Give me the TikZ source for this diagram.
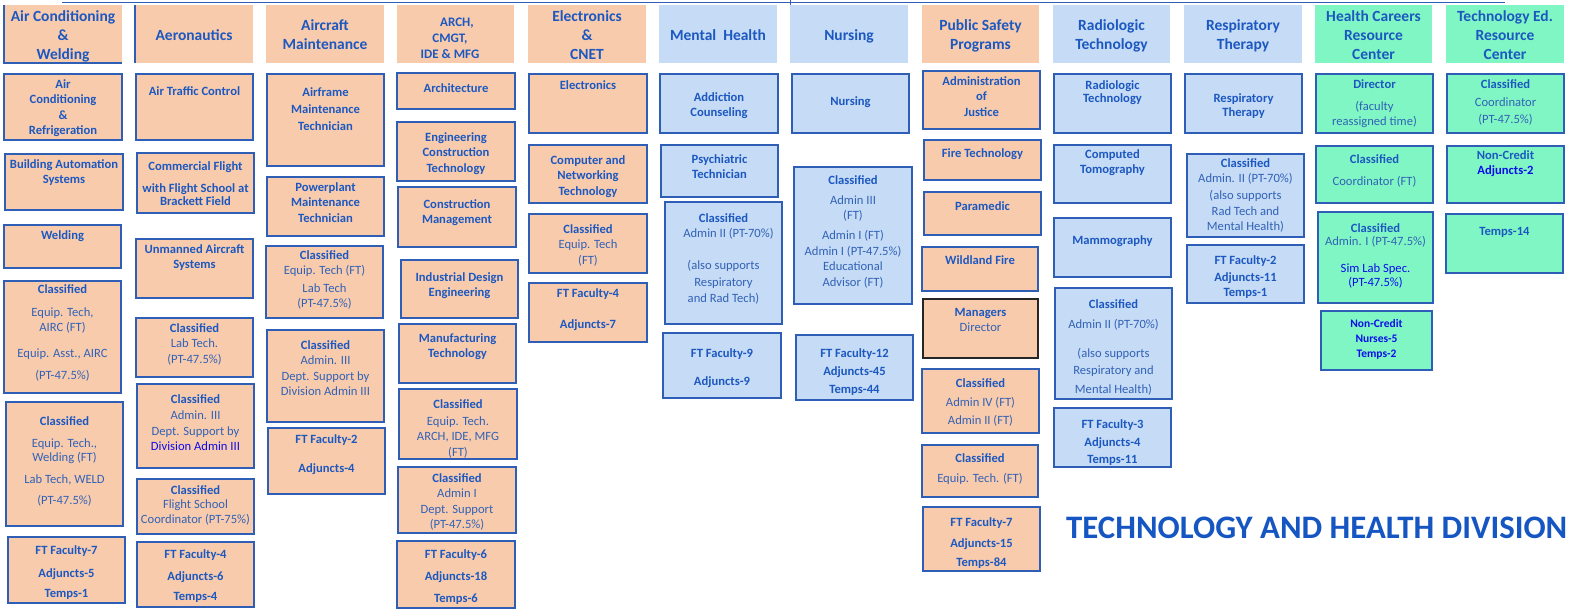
\documentclass[tikz,border=0pt]{standalone}
\usepackage{fontspec}
\setmainfont{Carlito}
\usetikzlibrary{calc}
\definecolor{peachc}{RGB}{248,203,173}
\definecolor{lbluec}{RGB}{197,219,246}
\definecolor{mintc}{RGB}{128,246,196}
\definecolor{bordercol}{RGB}{46,94,182}
\definecolor{boldtext}{RGB}{28,88,192}
\definecolor{normtext}{RGB}{50,98,182}
\definecolor{pureblue}{RGB}{12,12,235}
\definecolor{titlecol}{RGB}{22,86,194}
\newcommand\bb[1]{\textbf{\color{boldtext}#1}}
\newcommand\pb[1]{\textcolor{pureblue}{#1}}
\newcommand\bx[8]{%
  \pgfmathsetmacro\bxw{#5-#3}\pgfmathsetmacro\bxh{#6-#4}\pgfmathsetmacro\bxc{(#3+#5)/2}%
  \node[#2, minimum width=\bxw pt, minimum height=\bxh pt, anchor=north west] (#1) at (#3,#4) {};%
  \node[txt, anchor=north] (#1-t) at (\bxc,#7) {#8};%
}
\newcommand\hd[6]{%
  \pgfmathsetmacro\bxw{#4-#3}\pgfmathsetmacro\bxc{(#3+#4)/2}%
  \node[#2, minimum width=\bxw pt, minimum height=58pt, anchor=north west] (#1) at (#3,5) {};%
  \node[htxt, anchor=north] (#1-t) at (\bxc,#5) {#6};%
}
\tikzset{
  boxbase/.style={draw=bordercol, line width=1.2pt, inner sep=0pt, outer sep=0pt},
  peach/.style={boxbase, fill=peachc},
  lblue/.style={boxbase, fill=lbluec},
  mint/.style={boxbase, fill=mintc},
  peachk/.style={boxbase, fill=peachc, draw=black!85, line width=1.4pt},
  hpeach/.style={fill=peachc, inner sep=0pt, outer sep=0pt},
  hlblue/.style={fill=lbluec, inner sep=0pt, outer sep=0pt},
  hmint/.style={fill=mintc, inner sep=0pt, outer sep=0pt},
  txt/.style={align=center, inner sep=0pt, text=normtext, font=\fontsize{12.6}{15.5}\selectfont},
  htxt/.style={align=center, inner sep=0pt, text=boldtext, font=\fontsize{15.5}{19}\selectfont\bfseries},
  htxts/.style={htxt, font=\fontsize{13}{16}\selectfont\bfseries},
  title/.style={inner sep=0pt, text=titlecol, font=\fontsize{32.8}{36}\selectfont\bfseries},
  topline/.style={draw=bordercol, line width=1.4pt},
  hedge/.style={draw=bordercol, line width=1.2pt}
}
\begin{document}
\begin{tikzpicture}[x=1pt, y=-1pt]
\useasboundingbox (0,0) rectangle (1575,613);
% top line
\coordinate (tl1) at (62,2.5); \coordinate (tl2) at (1505,2.5);
\draw[topline] (tl1) -- (tl2);
\coordinate (tk1) at (790,0); \coordinate (tk2) at (790,5);
\draw[bordercol, line width=0.8pt] (tk1) -- (tk2);
% headers
\hd{h1}{hpeach}{4}{122}{10}{Air Conditioning\\\&\\Welding}
\draw[hedge] (h1.north west) -- (h1.south west) -- (h1.south east);
\hd{h2}{hpeach}{135}{253}{29}{Aeronautics}
\draw[hedge] (h2.north west) -- (h2.south west);
\hd{h3}{hpeach}{266}{384}{19}{Aircraft\\Maintenance}
\pgfmathsetmacro\bxw{514-397}
\node[hpeach, minimum width=\bxw pt, minimum height=58pt, anchor=north west] (h4) at (397,5) {};
\node[htxts, anchor=north] (h4-t) at (450,18) {\hspace*{14pt}ARCH,\\CMGT,\hspace*{12pt}\\IDE \& MFG};
\hd{h5}{hpeach}{528}{646}{10}{Electronics\\\&\\CNET}
\hd{h6}{hlblue}{659}{777}{29}{Mental\ \ Health}
\hd{h7}{hlblue}{790}{908}{29}{Nursing}
\hd{h8}{hpeach}{922}{1039}{19}{Public Safety\\Programs}
\hd{h9}{hlblue}{1053}{1170}{19}{Radiologic\\Technology}
\hd{h10}{hlblue}{1184}{1302}{19}{Respiratory\\Therapy}
\hd{h11}{hmint}{1315}{1432}{10}{Health Careers\\Resource\\Center}
\hd{h12}{hmint}{1446}{1564}{10}{Technology Ed.\\Resource\\Center}
% column 1
\bx{c1a}{peach}{4}{74}{122}{140}{79}{\bb{Air}\\\bb{Conditioning}\\\bb{\&}\\\bb{Refrigeration}}
\bx{c1b}{peach}{5}{154}{123}{210}{159}{\bb{Building Automation}\\\bb{Systems}}
\bx{c1c}{peach}{4}{225}{121}{268}{230}{\bb{Welding}}
\bx{c1d}{peach}{4}{281}{121}{393}{284}{\bb{Classified}\\[7.5pt]Equip. Tech,\\AIRC (FT)\\[10.5pt]Equip. Asst., AIRC\\[6.5pt](PT-47.5\%)}
\bx{c1e}{peach}{6}{402}{123}{526}{416}{\bb{Classified}\\[6.5pt]Equip. Tech.,\\[-1.5pt]Welding (FT)\\[6.5pt]Lab Tech, WELD\\[5.5pt](PT-47.5\%)}
\bx{c1f}{peach}{8}{537}{125}{603}{545}{\bb{FT Faculty-7}\\[7.5pt]\bb{Adjuncts-5}\\[4.5pt]\bb{Temps-1}}
% column 2
\bx{c2a}{peach}{136}{74}{253}{140}{86}{\bb{Air Traffic Control}}
\bx{c2b}{peach}{137}{153}{254}{213}{161}{\bb{Commercial Flight}\\[6.5pt]\bb{with Flight School at}\\[-2.5pt]\bb{Brackett Field}}
\bx{c2c}{peach}{136}{239}{253}{298}{244}{\bb{Unmanned Aircraft}\\\bb{Systems}}
\bx{c2d}{peach}{136}{318}{253}{377}{323}{\bb{Classified}\\Lab Tech.\\(PT-47.5\%)}
\bx{c2e}{peach}{137}{384}{254}{468}{394}{\bb{Classified}\\[1pt]Admin. III\\Dept. Support by\\\pb{Division Admin III}}
\bx{c2f}{peach}{137}{479}{254}{534}{485}{\bb{Classified}\\[-1.5pt]Flight School\\Coordinator (PT-75\%)}
\bx{c2g}{peach}{137}{542}{254}{607}{549}{\bb{FT Faculty-4}\\[7pt]\bb{Adjuncts-6}\\[4.5pt]\bb{Temps-4}}
% column 3
\bx{c3a}{peach}{267}{74}{384}{166}{87}{\bb{Airframe}\\[1.5pt]\bb{Maintenance}\\[2pt]\bb{Technician}}
\bx{c3b}{peach}{267}{177}{384}{236}{182}{\bb{Powerplant}\\\bb{Maintenance}\\\bb{Technician}}
\bx{c3c}{peach}{266}{246}{383}{318}{250}{\bb{Classified}\\Equip. Tech (FT)\\[2pt]Lab Tech\\(PT-47.5\%)}
\bx{c3d}{peach}{267}{330}{384}{422}{340}{\bb{Classified}\\Admin. III\\Dept. Support by\\Division Admin III}
\bx{c3e}{peach}{268}{428}{385}{494}{434}{\bb{FT Faculty-2}\\[13.5pt]\bb{Adjuncts-4}}
% column 4
\bx{c4a}{peach}{397}{73}{515}{109}{83}{\bb{Architecture}}
\bx{c4b}{peach}{397}{122}{515}{181}{132}{\bb{Engineering}\\\bb{Construction}\\\bb{Technology}}
\bx{c4c}{peach}{398}{187}{516}{247}{199}{\bb{Construction}\\\bb{Management}}
\bx{c4d}{peach}{401}{260}{518}{318}{272}{\bb{Industrial Design}\\\bb{Engineering}}
\bx{c4e}{peach}{399}{324}{516}{383}{333}{\bb{Manufacturing}\\\bb{Technology}}
\bx{c4f}{peach}{399}{389}{517}{459}{399}{\bb{Classified}\\[1.5pt]Equip. Tech.\\ARCH, IDE, MFG\\(FT)}
\bx{c4g}{peach}{398}{467}{516}{533}{473}{\bb{Classified}\\Admin I\\Dept. Support\\(PT-47.5\%)}
\bx{c4h}{peach}{397}{541}{515}{608}{549}{\bb{FT Faculty-6}\\[6.5pt]\bb{Adjuncts-18}\\[6.5pt]\bb{Temps-6}}
% column 5
\bx{c5a}{peach}{529}{74}{647}{133}{80}{\bb{Electronics}}
\bx{c5b}{peach}{529}{145}{647}{203}{155}{\bb{Computer and}\\\bb{Networking}\\\bb{Technology}}
\bx{c5c}{peach}{529}{214}{647}{273}{224}{\bb{Classified}\\Equip. Tech\\(FT)}
\bx{c5d}{peach}{529}{283}{647}{342}{288}{\bb{FT Faculty-4}\\[15.5pt]\bb{Adjuncts-7}}
% column 6
\bx{c6a}{lblue}{660}{74}{778}{133}{92}{\bb{Addiction}\\\bb{Counseling}}
\bx{c6b}{lblue}{661}{145}{778}{197}{154}{\bb{Psychiatric}\\\bb{Technician}}
\bx{c6c}{lblue}{665}{202}{782}{324}{213}{\bb{Classified}\\\hspace*{10pt}Admin II (PT-70\%)\\[16.5pt](also supports\\[1pt]Respiratory\\[1pt]and Rad Tech)}
\bx{c6d}{lblue}{663}{333}{781}{398}{348}{\bb{FT Faculty-9}\\[12.5pt]\bb{Adjuncts-9}}
% column 7
\bx{c7a}{lblue}{792}{74}{909}{133}{96}{\bb{Nursing}}
\bx{c7b}{lblue}{794}{167}{912}{304}{175}{\bb{Classified}\\[4.5pt]Admin III\\(FT)\\[4.5pt]Admin I (FT)\\Admin I (PT-47.5\%)\\Educational\\Advisor (FT)}
\bx{c7c}{lblue}{796}{335}{913}{400}{348}{\bb{FT Faculty-12}\\[3pt]\bb{Adjuncts-45}\\[2pt]\bb{Temps-44}}
% column 8
\bx{c8a}{peach}{923}{71}{1040}{129}{76}{\bb{Administration}\\\bb{of}\\\bb{Justice}}
\bx{c8b}{peach}{924}{140}{1041}{180}{148}{\bb{Fire Technology}}
\bx{c8c}{peach}{924}{192}{1041}{235}{201}{\bb{Paramedic}}
\bx{c8d}{peach}{922}{247}{1038}{291}{255}{\bb{Wildland Fire}}
\bx{c8e}{peachk}{923}{299}{1038}{358}{308}{\bb{Managers}\\Director}
\bx{c8f}{peach}{922}{369}{1039}{433}{378}{\bb{Classified}\\[3.5pt]Admin IV (FT)\\[3pt]Admin II (FT)}
\bx{c8g}{peach}{922}{445}{1038}{497}{453}{\bb{Classified}\\[4.5pt]Equip. Tech. (FT)}
\bx{c8h}{peach}{923}{507}{1040}{571}{517}{\bb{FT Faculty-7}\\[5.5pt]\bb{Adjuncts-15}\\[3.5pt]\bb{Temps-84}}
% column 9
\bx{c9a}{lblue}{1054}{74}{1171}{133}{80}{\bb{Radiologic}\\[-2.5pt]\bb{Technology}}
\bx{c9b}{lblue}{1054}{145}{1171}{203}{149}{\bb{Computed}\\\bb{Tomography}}
\bx{c9c}{lblue}{1054}{218}{1171}{277}{235}{\bb{Mammography}}
\bx{c9d}{lblue}{1055}{288}{1172}{399}{299}{\bb{Classified}\\[4.5pt]Admin II (PT-70\%)\\[13.5pt](also supports\\[1.5pt]Respiratory and\\[3.5pt]Mental Health)}
\bx{c9e}{lblue}{1054}{408}{1171}{467}{419}{\bb{FT Faculty-3}\\[2.5pt]\bb{Adjuncts-4}\\[1.5pt]\bb{Temps-11}}
% column 10
\bx{c10a}{lblue}{1185}{74}{1302}{133}{93}{\bb{Respiratory}\\[-1.5pt]\bb{Therapy}}
\bx{c10b}{lblue}{1187}{154}{1304}{237}{158}{\bb{Classified}\\Admin. II (PT-70\%)\\[1.5pt](also supports\\Rad Tech and\\Mental Health)}
\bx{c10c}{lblue}{1187}{245}{1304}{303}{255}{\bb{FT Faculty-2}\\[1.5pt]\bb{Adjuncts-11}\\\bb{Temps-1}}
% column 11
\bx{c11a}{mint}{1316}{74}{1433}{133}{79}{\bb{Director}\\[6.5pt](faculty\\reassigned time)}
\bx{c11b}{mint}{1316}{146}{1433}{203}{154}{\bb{Classified}\\[6.5pt]Coordinator (FT)}
\bx{c11c}{mint}{1318}{212}{1433}{303}{223}{\bb{Classified}\\[-2.5pt]Admin. I (PT-47.5\%)\\[11.5pt]\pb{Sim Lab Spec.}\\[-1pt]\pb{(PT-47.5\%)}}
\bx{c11d}{mint}{1321}{311}{1432}{370}{319}{{\fontsize{11.5}{15}\selectfont\bfseries\color{pureblue}Non-Credit}\\[-0.5pt]{\fontsize{11.5}{15}\selectfont\bfseries\color{pureblue}Nurses-5}\\[-0.5pt]{\fontsize{11.5}{15}\selectfont\bfseries\color{pureblue}Temps-2}}
% column 12
\bx{c12a}{mint}{1447}{74}{1564}{133}{79}{\bb{Classified}\\[2.5pt]Coordinator\\[1.5pt](PT-47.5\%)}
\bx{c12b}{mint}{1447}{146}{1564}{203}{150}{\bb{Non-Credit}\\\textbf{\color{pureblue}Adjuncts-2}}
\bx{c12c}{mint}{1446}{214}{1563}{273}{227}{\bb{Temps-14}}
% title
\node[title, anchor=base west] (title) at (1066,538) {TECHNOLOGY AND HEALTH DIVISION};
\end{tikzpicture}
\end{document}
